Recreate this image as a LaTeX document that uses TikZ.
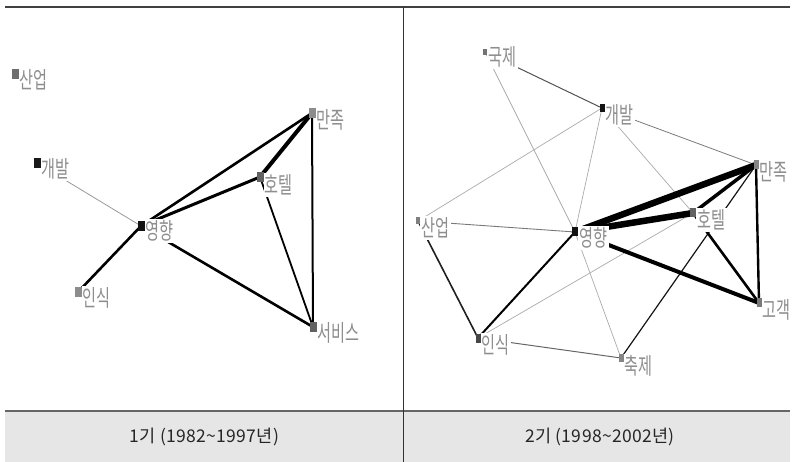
\documentclass[tikz,border=0pt]{standalone}
\usepackage{fontspec}
\usepackage{graphicx}
\newfontfamily\kr{Noto Sans CJK KR}
\newfontfamily\krband[LetterSpace=2]{Noto Sans CJK KR}
\definecolor{lblgray}{HTML}{8E8E8E}
\definecolor{bandgray}{HTML}{E6E6E6}
\definecolor{lightedge}{HTML}{AAAAAA}
\definecolor{midedge}{HTML}{7A7A7A}
\newcommand{\hk}[1]{\scalebox{0.66}[1]{#1}}
\pgfdeclarelayer{edgelayer}
\pgfdeclarelayer{labellayer}
\pgfsetlayers{edgelayer,labellayer,main}
\tikzset{
  sq/.style={draw=none, inner sep=0pt, minimum width=7pt, minimum height=10pt},
  sqs/.style={draw=none, inner sep=0pt, minimum width=5pt, minimum height=8pt},
  lbl/.style={anchor=west, fill=white, inner xsep=1.2pt, inner ysep=2pt, text=lblgray, font=\kr\fontsize{23}{23}\selectfont},
  band/.style={text=black!85, font=\krband\fontsize{17.5}{17.5}\selectfont},
  e/.style={draw=black, line cap=round},
}
\begin{document}
\begin{tikzpicture}[x=1pt,y=-1pt]
\useasboundingbox (0,0) rectangle (795,462);
\begin{pgfonlayer}{edgelayer}
\fill[bandgray] (5,411) rectangle (790,462);
\draw[black!75, line width=1.2pt] (5,7) -- (790,7);
\draw[black!60, line width=1.5pt] (5,411) -- (790,411);
\draw[black!80, line width=1pt] (403,7) -- (403,462);
\end{pgfonlayer}
\node[band] (cap1) at (204.5,437) {1기 (1982\textasciitilde1997년)};
\node[band] (cap2) at (600,437) {2기 (1998\textasciitilde2002년)};

% ---------- left panel nodes ----------
\node[sq, fill=black!57] (Lsu) at (15,74) {};
\node[sq, fill=black!45] (Lmj) at (312,113) {};
\node[sq, fill=black!90] (Lgb) at (37,163) {};
\node[sq, fill=black!62] (Lht) at (260,177) {};
\node[sq, fill=black!93] (Lyh) at (141,226) {};
\node[sq, fill=black!45] (Lis) at (78,292) {};
\node[sq, fill=black!62] (Lsv) at (313,327) {};

% ---------- right panel nodes ----------
\node[sqs, fill=black!55, minimum width=4pt, minimum height=6pt] (Rgj) at (485,52) {};
\node[sqs, fill=black!92] (Rgb) at (602,108) {};
\node[sqs, fill=black!48, minimum height=9pt] (Rmj) at (756,165) {};
\node[sqs, fill=black!62, minimum width=6pt, minimum height=9pt] (Rht) at (693,213) {};
\node[sqs, fill=black!50, minimum width=4pt, minimum height=7pt] (Rsu) at (418,221) {};
\node[sqs, fill=black!93, minimum width=6pt, minimum height=9pt] (Ryh) at (575,232) {};
\node[sqs, fill=black!52, minimum height=9pt] (Rgg) at (759,303) {};
\node[sqs, fill=black!72, minimum height=9pt] (Ris) at (478,338) {};
\node[sqs, fill=black!48] (Rcj) at (621,358) {};

\begin{pgfonlayer}{edgelayer}
% left edges
\draw[e, draw=black!40, line width=0.8pt] (Lgb.center) -- (Lyh.center);
\draw[e, line width=2.6pt] (Lyh.center) -- (Lis.center);
\draw[e, line width=2.6pt] (Lyh.center) -- (Lmj.center);
\draw[e, line width=3pt] (Lyh.center) -- (Lht.center);
\draw[e, line width=2.6pt] (Lyh.center) -- (Lsv.center);
\draw[e, line width=4pt] (Lmj.center) -- (Lht.center);
\draw[e, line width=2pt] (Lmj.center) -- (Lsv.center);
\draw[e, line width=1.8pt] (Lht.center) -- (Lsv.center);
% right edges
\draw[e, draw=black!68, line width=1pt] (Rgj.center) -- (Rgb.center);
\draw[e, draw=lightedge, line width=0.7pt] (Rgj.center) -- (Ryh.center);
\draw[e, draw=lightedge, line width=0.7pt] (Rgb.center) -- (Rsu.center);
\draw[e, draw=lightedge, line width=0.7pt] (Rgb.center) -- (Ryh.center);
\draw[e, draw=midedge, line width=0.8pt] (Rgb.center) -- (Rmj.center);
\draw[e, draw=lightedge, line width=0.7pt] (Rgb.center) -- (Rht.center);
\draw[e, draw=midedge, line width=0.9pt] (Rsu.center) -- (Ryh.center);
\draw[e, draw=black!88, line width=1.6pt] (Rsu.center) -- (Ris.center);
\draw[e, line width=2pt] (Ryh.center) -- (Ris.center);
\draw[e, draw=lightedge, line width=0.7pt] (Ris.center) -- (Rht.center);
\draw[e, draw=black!60, line width=1pt] (Ris.center) -- (Rcj.center);
\draw[e, draw=lightedge, line width=0.7pt] (Ryh.center) -- (Rcj.center);
\draw[e, draw=black!92, line width=1.2pt] (Rmj.center) -- (Rcj.center);
\draw[e, line width=6.5pt] (Ryh.center) -- (Rmj.center);
\draw[e, line width=6.5pt] (Ryh.center) -- (Rht.center);
\draw[e, line width=3.5pt] (Rht.center) -- (Rmj.center);
\draw[e, line width=4pt] (Ryh.center) -- (Rgg.center);
\draw[e, line width=2.6pt] (Rht.center) -- (Rgg.center);
\draw[e, line width=2.4pt] (Rmj.center) -- (Rgg.center);
\end{pgfonlayer}

\begin{pgfonlayer}{labellayer}
\node[lbl] (Lsu-t) at (18.5,80) {\hk{산업}};
\node[lbl] (Lmj-t) at (315.5,120) {\hk{만족}};
\node[lbl] (Lgb-t) at (40.5,169) {\hk{개발}};
\node[lbl] (Lht-t) at (263.5,185) {\hk{호텔}};
\node[lbl] (Lyh-t) at (144.5,231) {\hk{영향}};
\node[lbl] (Lis-t) at (81.5,298) {\hk{인식}};
\node[lbl] (Lsv-t) at (316.5,333) {\hk{서비스}};
\node[lbl] (Rgj-t) at (487,57) {\hk{국제}};
\node[lbl] (Rgb-t) at (604.5,115) {\hk{개발}};
\node[lbl] (Rmj-t) at (758.5,172) {\hk{만족}};
\node[lbl] (Rht-t) at (696,220) {\hk{호텔}};
\node[lbl] (Rsu-t) at (420,228) {\hk{산업}};
\node[lbl] (Ryh-t) at (578,238) {\hk{영향}};
\node[lbl] (Rgg-t) at (761.5,310) {\hk{고객}};
\node[lbl] (Ris-t) at (480.5,345) {\hk{인식}};
\node[lbl] (Rcj-t) at (623.5,366) {\hk{축제}};
\end{pgfonlayer}
\end{tikzpicture}
\end{document}
